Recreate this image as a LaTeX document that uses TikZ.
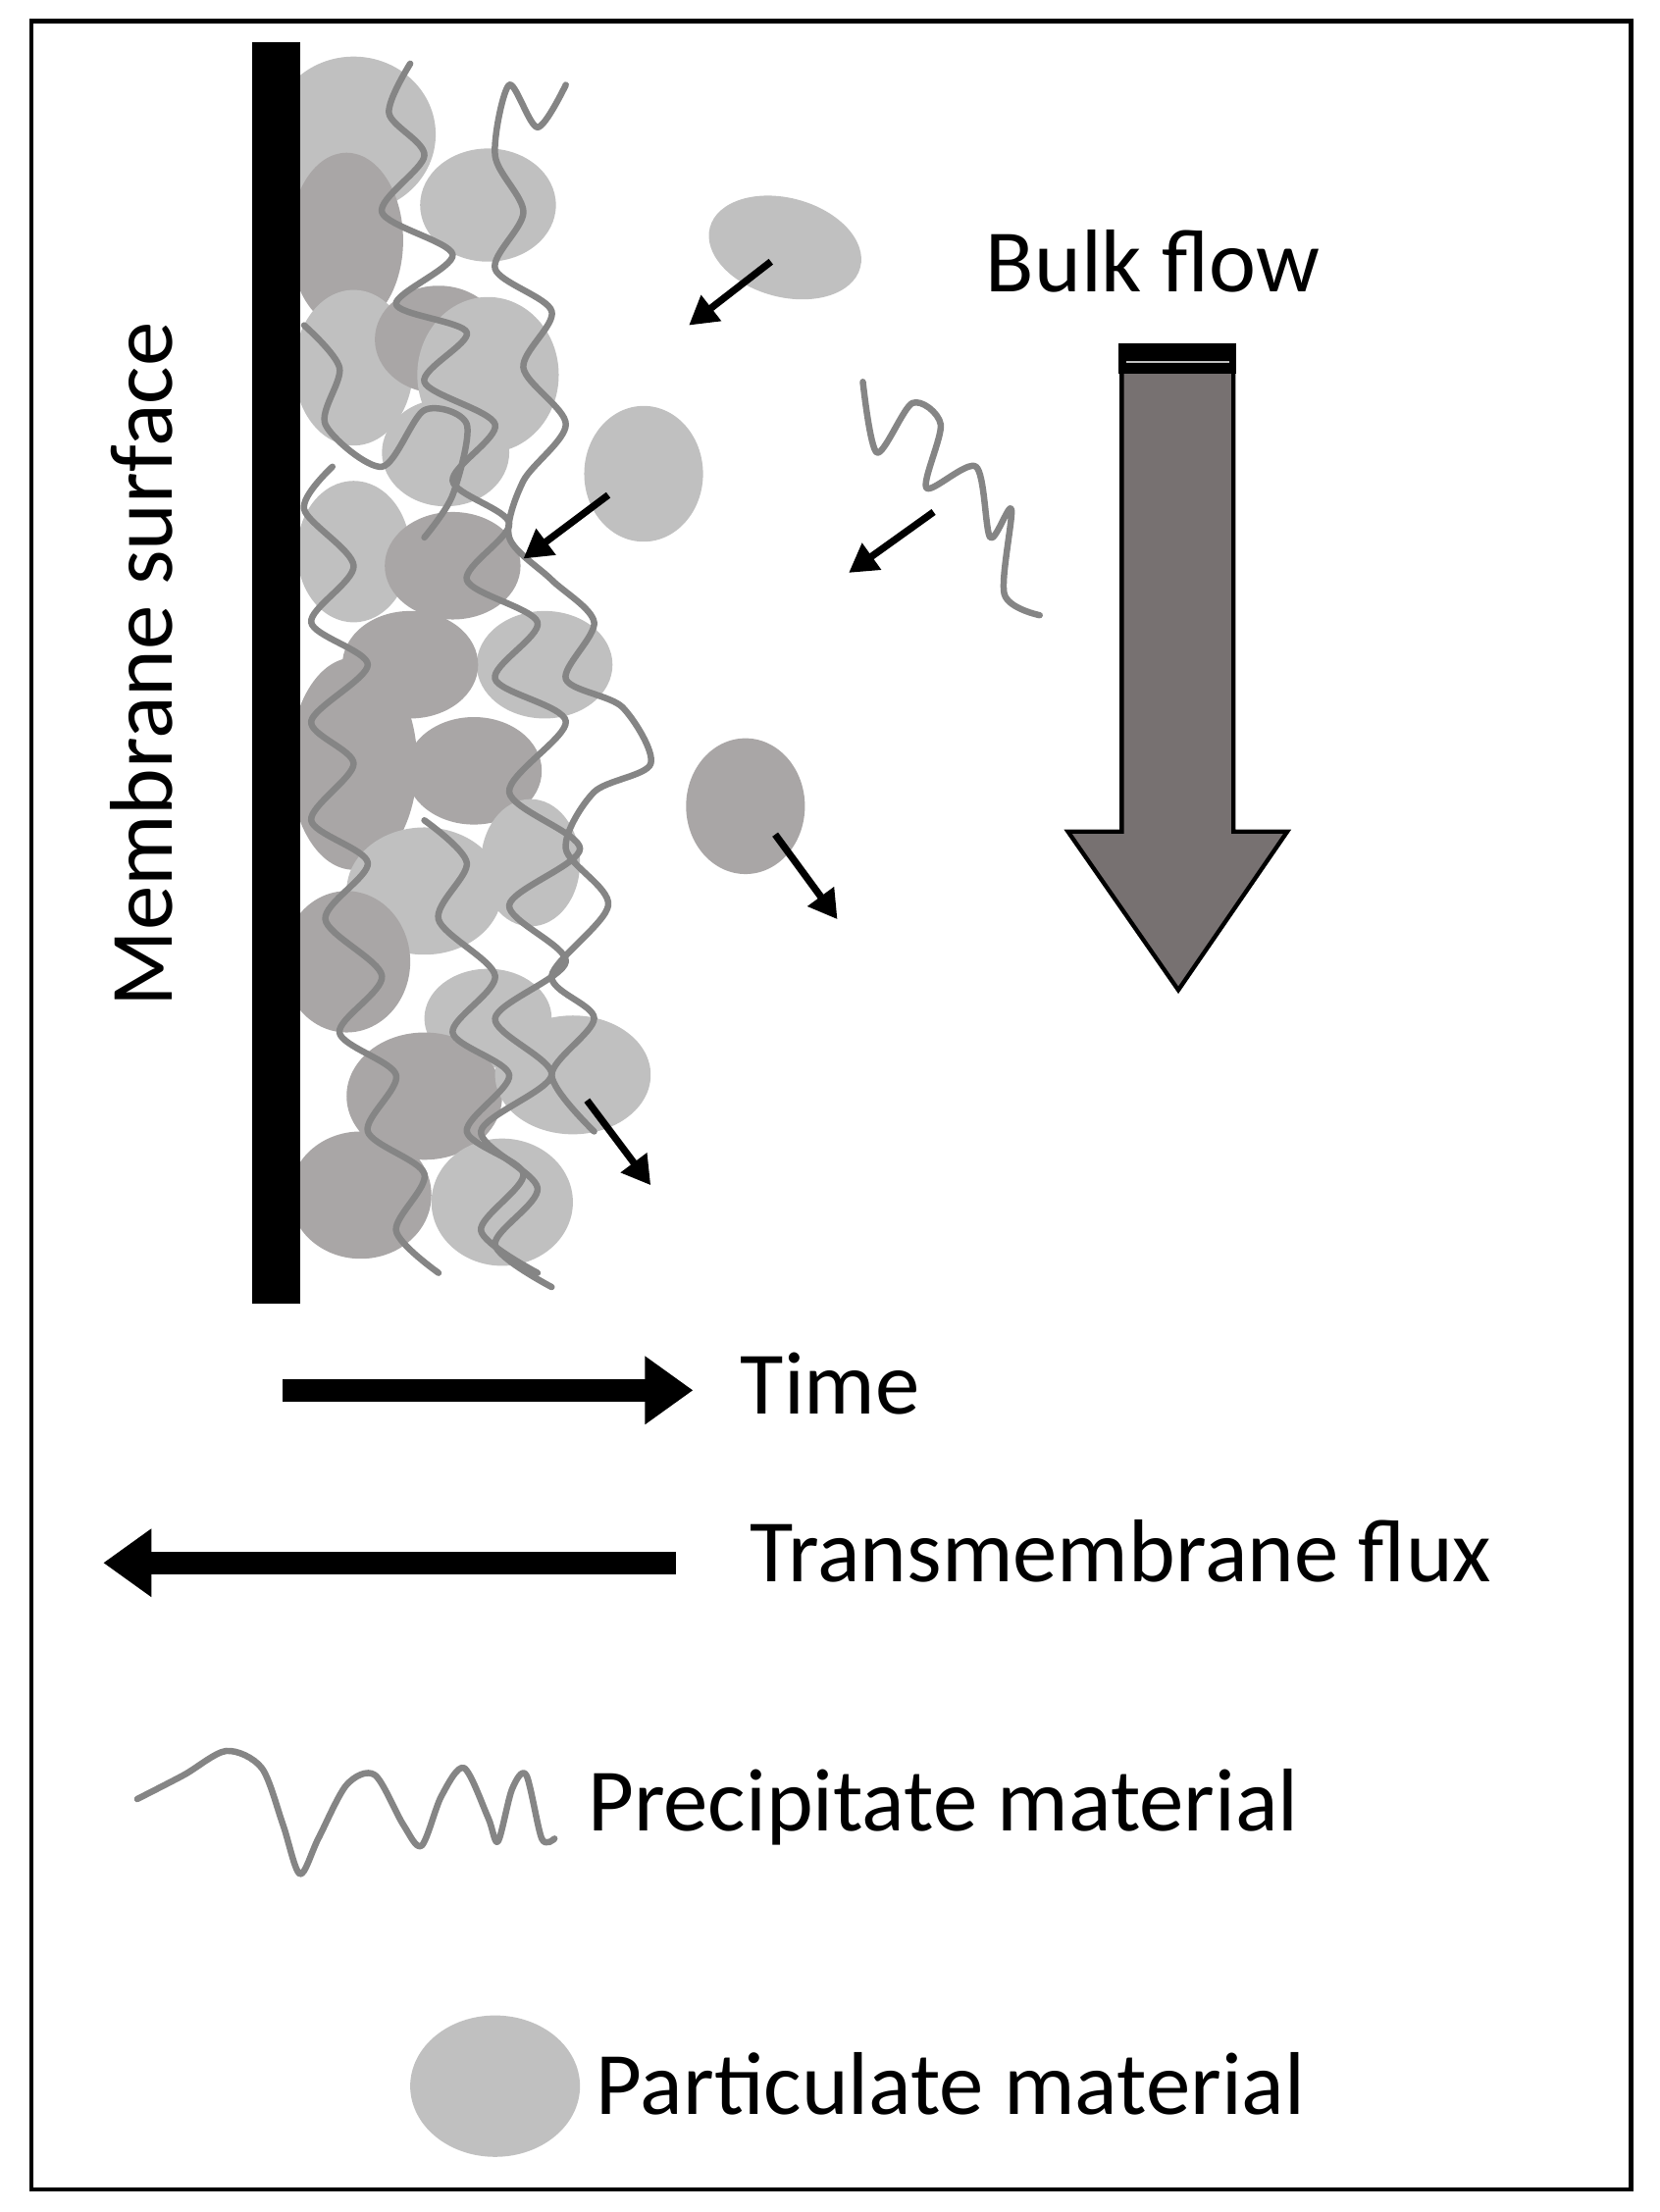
\documentclass[tikz,border=0pt]{standalone}
\usepackage{fontspec}
\setmainfont{Carlito}
\usetikzlibrary{arrows.meta}
\definecolor{lg}{HTML}{C0C0C0}
\definecolor{dg}{HTML}{A9A6A6}
\definecolor{sq}{HTML}{858585}
\definecolor{bulk}{HTML}{777171}
\begin{document}
\begin{tikzpicture}[x=1pt,y=-1pt,
 lp/.style={fill=lg,draw=none},
 dp/.style={fill=dg,draw=none},
 sqs/.style={draw=sq,line width=4.5pt,line cap=round,line join=round},
 small/.style={-{Triangle[length=20pt,width=22pt]},line width=5pt},
 big/.style={-{Triangle[length=34pt,width=46pt]},line width=16pt},
 lab/.style={font=\fontsize{63}{70}\selectfont,anchor=west}]
\useasboundingbox (0,0) rectangle (1173,1564);
\draw[line width=3pt] (22,15) rectangle (1153,1548);
% particles
\foreach \x/\y/\a/\b/\s in {250/95/58/55/lp,245/170/40/62/dp,345/145/48/40/lp,250/260/42/55/lp,310/240/45/38/dp,345/265/50/55/lp,315/320/45/38/lp,455/335/42/48/lp,250/390/40/50/lp,320/400/48/38/dp,385/470/48/38/lp,290/470/48/38/dp,250/540/45/75/dp,335/545/48/38/dp,300/630/55/45/lp,375/610/35/45/lp,245/680/45/50/dp,345/720/45/35/lp,300/775/55/45/dp,405/760/55/42/lp,255/845/50/45/dp,355/850/50/45/lp,527/570/42/48/dp}
  \path[\s] (\x,\y) ellipse [x radius=\a, y radius=\b];
\path[lp] (555,175) ellipse [x radius=55, y radius=35, rotate=-15];
\path[lp] (350,1475) ellipse [x radius=60, y radius=50];
% membrane
\fill (178,30) rectangle (212,922);
% squiggles
\draw[sqs] plot[smooth] coordinates {(290,45) (275,80) (300,110) (270,150) (320,180) (280,215) (330,235) (300,270) (350,300) (320,340) (360,370) (330,410) (380,440) (350,480) (400,510) (360,560) (410,600) (360,640) (400,680) (350,720) (390,760) (340,800) (380,840) (350,880) (390,910)};
\draw[sqs] plot[smooth] coordinates {(400,60) (380,90) (360,60) (350,110) (370,150) (350,190) (390,220) (370,260) (400,300) (370,340) (360,380) (390,410) (420,440) (400,480) (440,500) (460,540) (420,560) (400,600) (430,640) (390,690) (420,720) (390,760) (420,800)};
\draw[sqs] plot[smooth] coordinates {(235,330) (215,360) (250,400) (220,440) (260,470) (220,510) (250,540) (220,580) (260,610) (230,650) (270,690) (240,730) (280,760) (260,800) (300,830) (280,870) (310,900)};
\draw[sqs] plot[smooth] coordinates {(300,580) (330,610) (310,650) (350,690) (320,730) (360,760) (330,800) (370,830) (340,870) (380,900)};
\draw[sqs] plot[smooth] coordinates {(215,230) (240,260) (230,300) (270,330) (300,290) (330,300) (320,350) (300,380)};
\draw[sqs] plot[smooth] coordinates {(610,270) (620,320) (645,285) (665,300) (655,345) (690,330) (700,380) (715,360) (710,420) (735,435)};
% small arrows
\coordinate (a1) at (545,185); \coordinate (b1) at (487,230);
\coordinate (a2) at (430,350); \coordinate (b2) at (370,395);
\coordinate (a3) at (660,362); \coordinate (b3) at (600,405);
\coordinate (a4) at (548,590); \coordinate (b4) at (592,650);
\coordinate (a5) at (415,778); \coordinate (b5) at (460,838);
\foreach \i in {1,...,5} \draw[small] (a\i) -- (b\i);
% bulk flow
\draw[fill=bulk,line width=3pt,line join=miter] (793,262) -- (793,588) -- (755,588) -- (833,700) -- (910,588) -- (872,588) -- (872,262) -- cycle;
\fill (791,243) rectangle (874,264);
\draw[lg,line width=1.2pt] (796,256) -- (869,256);
\node[lab,anchor=center] (bf) at (815,185) {Bulk flow};
% time and flux
\coordinate (t0) at (200,983); \coordinate (t1) at (490,983);
\draw[big] (t0) -- (t1);
\node[lab] (time) at (520,978) {Time};
\coordinate (f0) at (478,1105); \coordinate (f1) at (73,1105);
\draw[big] (f0) -- (f1);
\node[lab] (flux) at (527,1097) {Transmembrane flux};
% legend
\draw[sqs] plot[smooth] coordinates {(97,1272) (130,1255) (160,1238) (185,1250) (200,1290) (212,1325) (225,1300) (245,1262) (265,1255) (285,1290) (298,1305) (312,1270) (328,1250) (345,1285) (352,1302) (362,1265) (372,1255) (383,1300) (392,1300)};
\node[lab] (prec) at (412,1278) {Precipitate material};
\node[lab] (part) at (418,1473) {Particulate material};
\node[lab,anchor=center,rotate=90] (mem) at (100,470) {Membrane surface};
\end{tikzpicture}
\end{document}
